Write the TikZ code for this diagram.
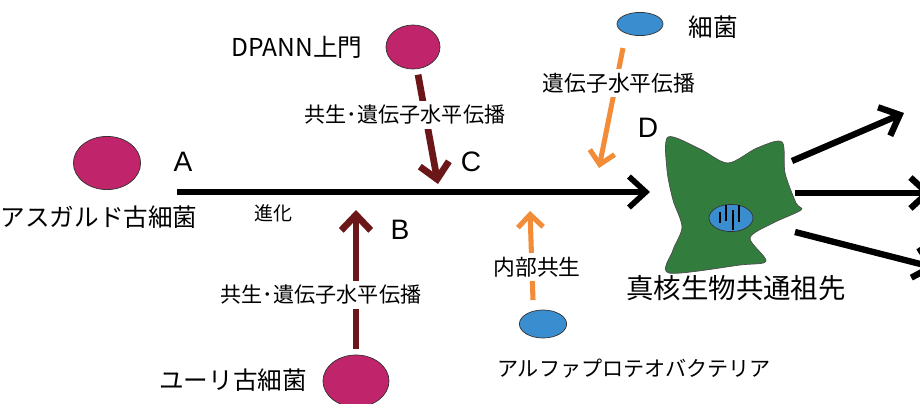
\documentclass[tikz,border=0pt]{standalone}
\usepackage{fontspec}
\setmainfont{Liberation Sans}
\newfontfamily\jp{Noto Sans CJK JP}
\usetikzlibrary{arrows.meta,shapes.geometric}

\definecolor{archaea}{RGB}{192,36,106}
\definecolor{hgtred}{RGB}{107,22,24}
\definecolor{endoorange}{RGB}{242,140,56}
\definecolor{bactblue}{RGB}{58,142,208}
\definecolor{cellgreen}{RGB}{50,125,62}

\begin{document}
\begin{tikzpicture}[x=0.025cm,y=-0.025cm,
  org/.style={ellipse,draw=black!80,line width=0.5pt,inner sep=0pt},
  big/.style={font=\jp\fontsize{17.5}{20}\selectfont},
  huge/.style={font=\jp\fontsize{19.5}{22}\selectfont},
  mid/.style={font=\jp\fontsize{15}{17}\selectfont,fill=white,inner sep=3pt},
  letter/.style={font=\fontsize{20}{22}\selectfont},
  evo/.style={line width=4pt,-{Straight Barb[length=12pt,width=22pt]}},
  branch/.style={line width=4.5pt,-{Straight Barb[length=12pt,width=22pt]}},
  hgt/.style={hgtred,line width=4.8pt,-{Straight Barb[length=11pt,width=21pt]}},
  endo/.style={endoorange,line width=3.6pt,-{Straight Barb[length=9pt,width=18pt]}}]
\useasboundingbox (0,0) rectangle (920,403);

% organisms
\node[org,fill=archaea,minimum width=1.68cm,minimum height=1.33cm] (asgard) at (107,163) {};
\node[org,fill=archaea,minimum width=1.35cm,minimum height=1.1cm] (dpann) at (413,47) {};
\node[org,fill=archaea,minimum width=1.65cm,minimum height=1.3cm] (eury) at (356,381) {};
\node[org,fill=bactblue,minimum width=1.15cm,minimum height=0.58cm] (bact) at (640,24) {};
\node[org,fill=bactblue,minimum width=1.18cm,minimum height=0.7cm] (alpha) at (543,324) {};

\node[big] (asgardname) at (99,217) {アスガルド古細菌};
\node[big] (dpannname) at (297,47) {DPANN上門};
\node[big] (euryname) at (233,380) {ユーリ古細菌};
\node[big] (bactname) at (713,27) {細菌};
\node[mid] (alphaname) at (634,369) {アルファプロテオバクテリア};

% eukaryote ancestor cell
\draw[black!70,fill=cellgreen,line width=0.5pt] plot[smooth cycle,tension=0.5] coordinates {
  (668,137) (700,149) (728,163) (757,148) (782,142) (785,173) (796,203)
  (801,210) (773,223) (750,238) (766,261) (740,265) (669,273) (673,250)
  (682,227) (673,200) (667,170)};
\node[org,fill=bactblue,minimum width=1.1cm,minimum height=0.68cm] (nucleus) at (731,218) {};
\draw[line width=1.5pt] (720,212) -- (720,223) (726,205) -- (726,221)
  (733,210) -- (733,230) (739,205) -- (739,222);
\node[huge] (lucaname) at (736,288) {真核生物共通祖先};

% evolution line
\coordinate (evostart) at (177,192);
\coordinate (evoend) at (650,192);
\draw[evo] (evostart) -- (evoend);
\node[font=\jp\fontsize{13.5}{16}\selectfont] (evolbl) at (273,213) {進化};

% transfers into the line
\coordinate (ctip) at (438,184);
\coordinate (btip) at (356,210);
\coordinate (dstart) at (623,48);
\coordinate (dtip) at (599,168);
\coordinate (endostart) at (533,300);
\coordinate (endotip) at (530,211);
\draw[hgt,shorten <=4pt] (dpann) -- (ctip);
\draw[hgt,shorten <=4pt] (eury) -- (btip);
\draw[endo] (dstart) -- (dtip);
\draw[endo] (endostart) -- (endotip);
\node[mid] (dpannhgt) at (405,115) {共生･遺伝子水平伝播};
\node[mid] (euryhgt) at (321,295) {共生･遺伝子水平伝播};
\node[mid,font=\jp\fontsize{15.5}{17}\selectfont] (bacthgt) at (619,83) {遺伝子水平伝播};
\node[mid,font=\jp\fontsize{15.5}{17}\selectfont] (endolbl) at (537,267) {内部共生};

\node[letter] (A) at (183,162) {A};
\node[letter] (B) at (400,230) {B};
\node[letter] (C) at (471,162) {C};
\node[letter] (D) at (648,128) {D};

% descendants
\coordinate (out1s) at (792,161);
\coordinate (out1e) at (904,113);
\coordinate (out2s) at (795,193);
\coordinate (out2e) at (932,193);
\coordinate (out3s) at (795,232);
\coordinate (out3e) at (936,268);
\draw[branch] (out1s) -- (out1e);
\draw[branch] (out2s) -- (out2e);
\draw[branch] (out3s) -- (out3e);
\end{tikzpicture}
\end{document}
